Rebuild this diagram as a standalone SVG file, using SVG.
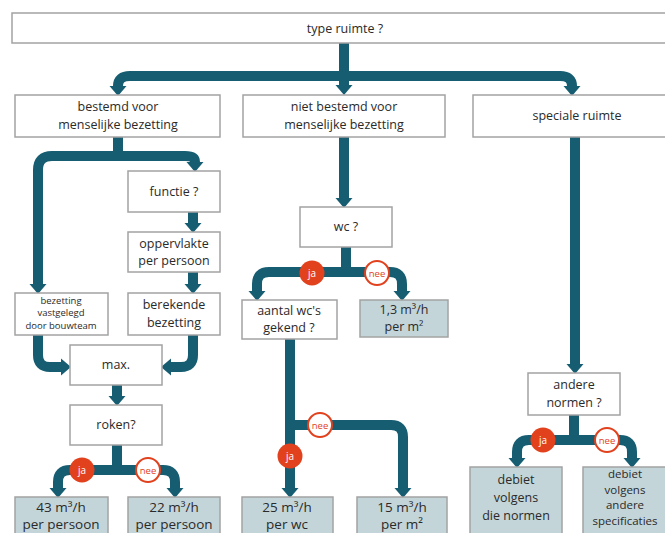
<svg xmlns="http://www.w3.org/2000/svg" width="665" height="533" viewBox="0 0 665 533">
<defs>
<marker id="ah" markerUnits="userSpaceOnUse" markerWidth="20" markerHeight="20" viewBox="0 0 20 20" refX="0" refY="10" orient="auto">
<path d="M0,1.5 L10,10 L0,18.5 z" fill="#165d72"/>
</marker>
<style>
.box{fill:#ffffff;stroke:#a3a3a3;stroke-width:1.5}
.res{fill:#c3d5d9;stroke:#a3a3a3;stroke-width:1.5}
.t{font-family:"Open Sans","Liberation Sans",sans-serif;font-size:12.5px;fill:#2a2a2a;text-anchor:middle}
.s{font-size:9.5px}
.b{font-size:13.5px}
.m{font-size:11.5px}
.c{fill:none;stroke:#165d72;stroke-width:10}
.a{marker-end:url(#ah)}
.ja{fill:#e2411d}
.nee{fill:#ffffff;stroke:#e2411d;stroke-width:2}
.jt{font-family:"Open Sans","Liberation Sans",sans-serif;font-size:10px;fill:#fff;text-anchor:middle}
.nt{font-family:"Open Sans","Liberation Sans",sans-serif;font-size:9.5px;fill:#e2411d;text-anchor:middle}
</style>
</defs>
<rect width="665" height="533" fill="#ffffff"/>

<g id="connectors">
<path class="c a" d="M344 43 V85"/>
<path class="c a" d="M344 76 H130 Q118 76 118 86"/>
<path class="c a" d="M344 76 H560 Q572 76 572 86"/>

<path class="c" d="M118 137 V156"/>
<path class="c a" d="M118 156 H52 Q38 156 38 170 V284"/>
<path class="c a" d="M118 156 H185 Q195 156 195 162"/>
<path class="c a" d="M193 212 V223"/>
<path class="c a" d="M193 272 V284"/>
<path class="c a" d="M38 335 V355 Q38 367 50 367 H61"/>
<path class="c a" d="M193 335 V355 Q193 367 181 367 H171"/>
<path class="c a" d="M117 385 V396"/>
<path class="c" d="M117 445 V470"/>
<path class="c a" d="M117 470 H70 Q58 470 58 482 V488"/>
<path class="c a" d="M117 470 H163 Q175 470 175 482 V488"/>

<path class="c a" d="M344 137 V198"/>
<path class="c" d="M346 247 V272"/>
<path class="c a" d="M346 272 H269 Q257 272 257 284 V291"/>
<path class="c a" d="M346 272 H390 Q402 272 402 284 V291"/>
<path class="c a" d="M290 339 V488"/>
<path class="c a" d="M290 425 H391 Q403 425 403 437 V488"/>

<path class="c a" d="M575 137 V364"/>
<path class="c" d="M574 415 V440"/>
<path class="c a" d="M574 440 H529 Q517 440 517 452 V458"/>
<path class="c a" d="M574 440 H620 Q632 440 632 452 V458"/>

<circle class="ja" cx="82" cy="470" r="12.5"/><text class="jt" x="82" y="474">ja</text>
<circle class="nee" cx="148" cy="470" r="12"/><text class="nt" x="148" y="473.5">nee</text>
<circle class="ja" cx="312" cy="273" r="12.5"/><text class="jt" x="312" y="277">ja</text>
<circle class="nee" cx="377" cy="273" r="12"/><text class="nt" x="377" y="276.5">nee</text>
<circle class="nee" cx="320" cy="425" r="12"/><text class="nt" x="320" y="428.5">nee</text>
<circle class="ja" cx="290" cy="456" r="12.5"/><text class="jt" x="290" y="460">ja</text>
<circle class="ja" cx="543" cy="440" r="12.5"/><text class="jt" x="543" y="444">ja</text>
<circle class="nee" cx="607" cy="440" r="12"/><text class="nt" x="607" y="443.5">nee</text>
</g>

<g id="n-type"><rect class="box" x="12" y="13" width="665" height="30"/><text class="t" x="345" y="33">type ruimte ?</text></g>
<g id="n-bestemd"><rect class="box" x="15" y="95" width="205" height="42"/><text class="t" x="118" y="111">bestemd voor</text><text class="t" x="118" y="129">menselijke bezetting</text></g>
<g id="n-nietbestemd"><rect class="box" x="243" y="95" width="202" height="42"/><text class="t" x="344" y="111">niet bestemd voor</text><text class="t" x="344" y="129">menselijke bezetting</text></g>
<g id="n-speciale"><rect class="box" x="473" y="95" width="200" height="42"/><text class="t" x="577" y="120">speciale ruimte</text></g>

<g id="n-functie"><rect class="box" x="128" y="171" width="92" height="41"/><text class="t" x="174" y="196">functie ?</text></g>
<g id="n-oppervlakte"><rect class="box" x="128" y="232" width="92" height="40"/><text class="t" x="174" y="248">oppervlakte</text><text class="t" x="174" y="265">per persoon</text></g>
<g id="n-vastgelegd"><rect class="box" x="15" y="293" width="93" height="42"/><text class="t s" x="61" y="304">bezetting</text><text class="t s" x="61" y="316">vastgelegd</text><text class="t s" x="61" y="329">door bouwteam</text></g>
<g id="n-berekende"><rect class="box" x="128" y="293" width="92" height="42"/><text class="t" x="174" y="309">berekende</text><text class="t" x="174" y="327">bezetting</text></g>
<g id="n-max"><rect class="box" x="70" y="345" width="92" height="40"/><text class="t" x="116" y="369">max.</text></g>
<g id="n-roken"><rect class="box" x="70" y="405" width="92" height="40"/><text class="t" x="116" y="429">roken?</text></g>
<g id="n-43"><rect class="res" x="15" y="497" width="93" height="45"/><text class="t b" x="61" y="512">43 m³/h</text><text class="t b" x="61" y="529">per persoon</text></g>
<g id="n-22"><rect class="res" x="128" y="497" width="92" height="45"/><text class="t b" x="174" y="512">22 m³/h</text><text class="t b" x="174" y="529">per persoon</text></g>

<g id="n-wc"><rect class="box" x="300" y="207" width="92" height="40"/><text class="t" x="346" y="231">wc ?</text></g>
<g id="n-aantal"><rect class="box" x="242" y="300" width="95" height="39"/><text class="t" x="289" y="315">aantal wc's</text><text class="t" x="289" y="332">gekend ?</text></g>
<g id="n-13"><rect class="res" x="360" y="300" width="88" height="37"/><text class="t" x="404" y="314">1,3 m³/h</text><text class="t" x="404" y="331">per m²</text></g>
<g id="n-25"><rect class="res" x="242" y="497" width="91" height="45"/><text class="t b" x="287" y="512">25 m³/h</text><text class="t b" x="287" y="529">per wc</text></g>
<g id="n-15"><rect class="res" x="357" y="497" width="90" height="45"/><text class="t b" x="402" y="512">15 m³/h</text><text class="t b" x="402" y="529">per m²</text></g>

<g id="n-andere"><rect class="box" x="528" y="373" width="92" height="42"/><text class="t" x="574" y="389">andere</text><text class="t" x="574" y="407">normen ?</text></g>
<g id="n-dienormen"><rect class="res" x="470" y="467" width="92" height="70"/><text class="t" x="516" y="484">debiet</text><text class="t" x="516" y="502">volgens</text><text class="t" x="516" y="520">die normen</text></g>
<g id="n-anderespec"><rect class="res" x="583" y="467" width="90" height="70"/><text class="t m" x="625" y="478">debiet</text><text class="t m" x="625" y="493.5">volgens</text><text class="t m" x="625" y="509">andere</text><text class="t m" x="625" y="524.5">specificaties</text></g>
</svg>
